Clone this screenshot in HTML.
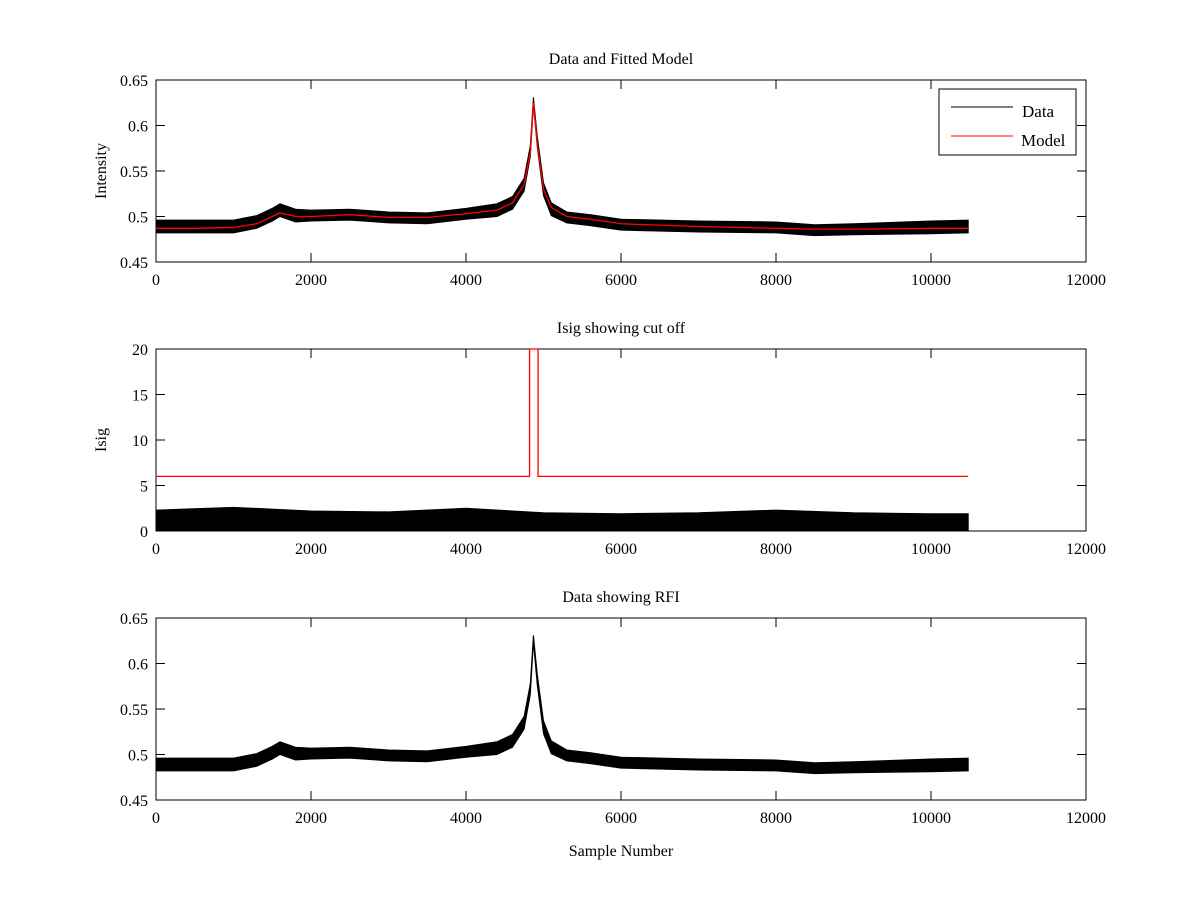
<!DOCTYPE html>
<html><head><meta charset="utf-8"><style>
body{margin:0;background:#fff}
svg{display:block;font-family:"Liberation Serif",serif}
</style></head><body>
<svg id="fig" width="1200" height="900" xmlns="http://www.w3.org/2000/svg">
<rect width="1200" height="900" fill="#fff"/>
</svg>
<script>
// ---- data ----
const sampleX = [0,500,1000,1300,1500,1600,1800,2000,2500,3000,3500,4000,4400,4600,4750,4830,4870,4920,5000,5100,5300,5600,6000,7000,8000,8500,9000,10000,10480];
const modelVals = [0.487,0.487,0.488,0.492,0.500,0.504,0.500,0.500,0.502,0.499,0.499,0.503,0.507,0.515,0.535,0.570,0.625,0.580,0.530,0.510,0.500,0.497,0.492,0.489,0.487,0.486,0.486,0.487,0.487];
const dataVals  = [0.489,0.489,0.489,0.494,0.502,0.507,0.501,0.501,0.502,0.499,0.498,0.503,0.507,0.515,0.535,0.572,0.627,0.582,0.530,0.508,0.499,0.496,0.491,0.489,0.488,0.485,0.486,0.488,0.489];
const noiseHalf = [0.007,0.007,0.007,0.007,0.007,0.007,0.007,0.006,0.006,0.006,0.006,0.006,0.007,0.007,0.007,0.006,0.004,0.006,0.007,0.007,0.006,0.006,0.006,0.006,0.006,0.006,0.006,0.007,0.007];
const isigX = [0,1000,2000,3000,4000,5000,6000,7000,8000,9000,10000,10480];
const isigUpper = [2.3,2.6,2.2,2.1,2.5,2.0,1.9,2.0,2.3,2.0,1.9,1.9];
const cutX = [0,4820,4820,4930,4930,10480];
const cutVals = [6,6,20,20,6,6];
const xTicks = [0,2000,4000,6000,8000,10000,12000];
const yTicksI = [0.45,0.5,0.55,0.6,0.65];
const yTickLabI = ['0.45','0.5','0.55','0.6','0.65'];
const yTicksS = [0,5,10,15,20];

const svg = document.getElementById('fig');
const NS = 'http://www.w3.org/2000/svg';
function mk(tag, attrs, parent){const e=document.createElementNS(NS,tag);for(const k in attrs)e.setAttribute(k,attrs[k]);(parent||svg).appendChild(e);return e;}
const L=156,R=1086;
const sx = v => L + (v/12000)*(R-L);

function axes(top,bot,ymin,ymax,yt,ylab,title,ytitle,name){
  const g=mk('g',{});
  
  
  const sy = v => bot - (v-ymin)/(ymax-ymin)*(bot-top);
  mk('rect',{x:L,y:top,width:R-L,height:bot-top,fill:'none',stroke:'#000','stroke-width':1},g);
  xTicks.forEach(t=>{const x=sx(t);
    mk('line',{x1:x,x2:x,y1:bot,y2:bot-9,stroke:'#000'},g);
    mk('line',{x1:x,x2:x,y1:top,y2:top+9,stroke:'#000'},g);
    const tx=mk('text',{x:x,y:bot+23,'text-anchor':'middle','font-size':16},g);tx.textContent=t;
    
    
  });
  yt.forEach((t,i)=>{const y=sy(t);
    mk('line',{x1:L,x2:L+9,y1:y,y2:y,stroke:'#000'},g);
    mk('line',{x1:R,x2:R-9,y1:y,y2:y,stroke:'#000'},g);
    const tx=mk('text',{x:L-8,y:y+6,'text-anchor':'end','font-size':16},g);tx.textContent=ylab[i];
    
    
  });
  const tt=mk('text',{x:(L+R)/2,y:top-16,'text-anchor':'middle','font-size':16},g);tt.textContent=title;
  
  
  if(ytitle){const yl=mk('text',{x:0,y:0,'text-anchor':'middle','font-size':16,transform:`translate(${L-50},${(top+bot)/2}) rotate(-90)`},g);yl.textContent=ytitle;
    
    }
  return sy;
}
function band(sy,xs,lo,hi,name){
  let d='M'+xs.map((x,i)=>sx(x)+','+sy(hi[i])).join(' L');
  for(let i=xs.length-1;i>=0;i--) d+=' L'+sx(xs[i])+','+sy(lo[i]);
  const p=mk('path',{d:d+'Z',fill:'#000',stroke:'#000','stroke-width':1});
  
  
}
function line(sy,xs,ys,col,name){
  const p=mk('polyline',{points:xs.map((x,i)=>sx(x)+','+sy(ys[i])).join(' '),fill:'none',stroke:col,'stroke-width':1.3});
  
  
}
const lo=dataVals.map((v,i)=>v-noiseHalf[i]), hi=dataVals.map((v,i)=>v+noiseHalf[i]);

// panel 1
const sy1=axes(80,262,0.45,0.65,yTicksI,yTickLabI,'Data and Fitted Model','Intensity','top-axes');
band(sy1,sampleX,lo,hi,'data-series');
line(sy1,sampleX,modelVals,'#f00','model-series');
const lg=mk('g',{});


mk('rect',{x:939,y:89,width:137,height:66,fill:'#fff',stroke:'#000'},lg);
mk('line',{x1:951,x2:1013,y1:107,y2:107,stroke:'#000'},lg);
mk('line',{x1:951,x2:1013,y1:136,y2:136,stroke:'#f00'},lg);
let t=mk('text',{x:1022,y:117,'font-size':17},lg);t.textContent='Data';
t=mk('text',{x:1021,y:146,'font-size':17},lg);t.textContent='Model';

// panel 2
const sy2=axes(349,531,0,20,yTicksS,yTicksS.map(String),'Isig showing cut off','Isig','middle-axes');
band(sy2,isigX,isigX.map(()=>0),isigUpper,'isig-series');
line(sy2,cutX,cutVals,'#f00','cutoff-line');

// panel 3
const sy3=axes(618,800,0.45,0.65,yTicksI,yTickLabI,'Data showing RFI',null,'bottom-axes');
band(sy3,sampleX,lo,hi,'rfi-data-series');
const xl=mk('text',{x:(L+R)/2,y:856,'text-anchor':'middle','font-size':16});xl.textContent='Sample Number';


</script>
</body></html>
